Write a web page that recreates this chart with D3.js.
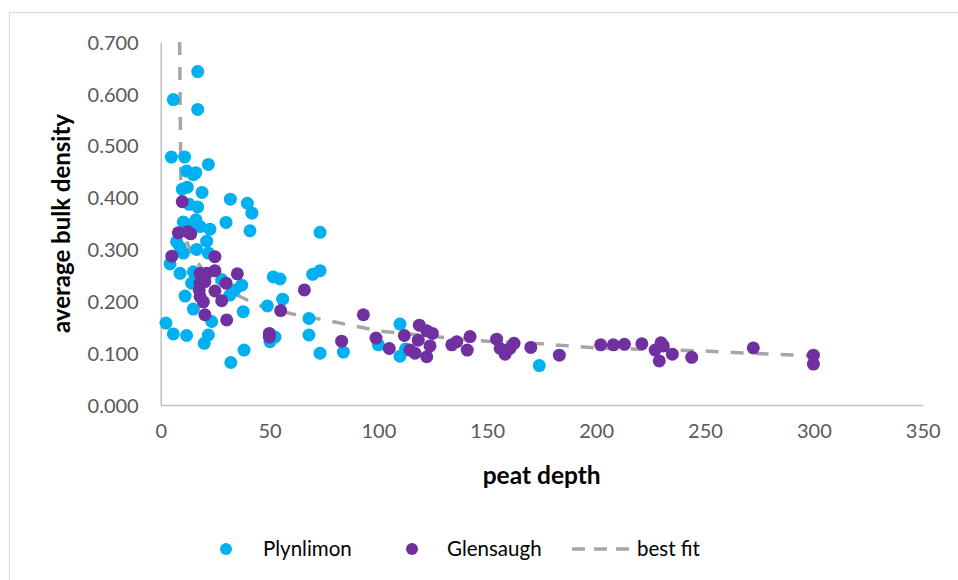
<!DOCTYPE html>
<html lang="en">
	<head>
		<meta charset="utf-8">
		<title>peat depth vs bulk density</title>
		<script type="text/javascript" src="https://cdn.jsdelivr.net/npm/d3@7"></script>
		<style type="text/css">
			body { margin: 0; background: #fff; }
			text { font-family: Lato, "Open Sans", sans-serif; }
		</style>
	</head>
	<body>
		<script type="text/javascript">

// Plynlimon samples
var plynDepth = [17.0, 5.8, 17.0, 4.9, 11.0, 21.9, 11.9, 16.1, 15.0, 12.2, 9.9, 19.0, 32.0, 39.8, 41.9, 17.0, 13.1,
	30.0, 41.0, 73.2, 10.4, 16.2, 12.7, 18.1, 22.6, 7.3, 21.1, 8.9, 16.5, 10.4, 21.9, 4.3, 8.9, 15.0, 14.2, 28.0,
	37.2, 34.1, 31.8, 11.2, 15.0, 37.9, 23.4, 2.4, 5.8, 11.9, 21.9, 20.0, 38.3, 32.2, 51.7, 54.8, 69.8, 73.2,
	56.0, 49.0, 68.1, 50.2, 52.5, 68.1, 73.2, 83.9, 109.9, 100.0, 109.9, 112.5, 173.9]
var plynDensity = [0.643, 0.589, 0.570, 0.478, 0.478, 0.464, 0.451, 0.448, 0.444, 0.420, 0.416, 0.410, 0.397, 0.389, 0.370, 0.382, 0.387,
	0.352, 0.336, 0.333, 0.353, 0.357, 0.347, 0.344, 0.339, 0.315, 0.316, 0.304, 0.300, 0.293, 0.293, 0.272, 0.254, 0.257, 0.235, 0.242,
	0.231, 0.222, 0.212, 0.210, 0.185, 0.180, 0.161, 0.158, 0.137, 0.134, 0.135, 0.119, 0.106, 0.082, 0.247, 0.243, 0.252, 0.259,
	0.204, 0.191, 0.167, 0.122, 0.131, 0.135, 0.100, 0.102, 0.156, 0.116, 0.094, 0.108, 0.076]

// Glensaugh samples
var glenDepth = [9.9, 8.1, 12.4, 13.8, 5.1, 24.9, 18.1, 21.1, 24.9, 35.2, 18.1, 20.3, 30.0, 17.7, 18.1, 24.9, 19.6,
	28.0, 20.3, 30.3, 66.0, 55.1, 93.1, 49.9, 49.9, 83.1, 98.9, 105.0, 111.9, 118.8, 122.2, 124.8, 118.3, 123.7,
	116.8, 122.2, 114.5, 133.7, 136.0, 142.1, 140.8, 154.3, 155.9, 158.2, 160.4, 162.3, 170.0, 183.1, 202.1, 207.9,
	213.0, 221.0, 229.8, 230.9, 227.1, 229.0, 235.0, 243.9, 272.2, 299.8, 299.8]
var glenDensity = [0.392, 0.332, 0.334, 0.330, 0.287, 0.286, 0.254, 0.254, 0.259, 0.253, 0.235, 0.238, 0.235, 0.222, 0.209, 0.220, 0.199,
	0.201, 0.174, 0.164, 0.222, 0.182, 0.174, 0.138, 0.131, 0.123, 0.129, 0.109, 0.134, 0.154, 0.143, 0.138, 0.125, 0.114,
	0.100, 0.093, 0.106, 0.116, 0.122, 0.132, 0.106, 0.127, 0.109, 0.098, 0.109, 0.119, 0.111, 0.096, 0.116, 0.116,
	0.117, 0.118, 0.120, 0.114, 0.106, 0.085, 0.098, 0.092, 0.110, 0.096, 0.079]

// best fit curve
var fitDepth = [8.7, 9.4, 12, 15, 20, 25, 35, 45, 60, 80, 100, 135, 150, 175, 200, 250, 275, 300]
var fitDensity = [0.700, 0.360, 0.315, 0.285, 0.258, 0.240, 0.212, 0.192, 0.176, 0.160, 0.143, 0.128, 0.123, 0.118, 0.110, 0.104, 0.099, 0.095]

var xTicks = [0, 50, 100, 150, 200, 250, 300, 350]
var yTicks = [0, 0.1, 0.2, 0.3, 0.4, 0.5, 0.6, 0.7]

var cyan = "#00B0F0"
var purple = "#7030A0"
var grey = "#A6A6A6"

var W = 958, H = 580
var pLeft = 160.7, pRight = 922.7, pTop = 42, pBottom = 405

var svg = d3.select("body").append("svg")
	.attr("width", W)
	.attr("height", H)

// chart frame (only top/left edges fall inside the picture)
svg.append("rect")
	.attr("x", 9.5).attr("y", 12.5)
	.attr("width", 1000).attr("height", 1000)
	.attr("fill", "none")
	.attr("stroke", "#D9D9D9")

var x = d3.scaleLinear().domain([0, 350]).range([pLeft, pRight])
var y = d3.scaleLinear().domain([0, 0.7]).range([pBottom, pTop])

var xAxis = d3.axisBottom(x).tickValues(xTicks).tickSize(0).tickPadding(19)
	.tickFormat(d3.format("d"))
var yAxis = d3.axisLeft(y).tickValues(yTicks).tickSize(0).tickPadding(22)
	.tickFormat(d3.format(".3f"))

var gx = svg.append("g").attr("transform", "translate(0," + pBottom + ")").call(xAxis)
var gy = svg.append("g").attr("transform", "translate(" + pLeft + ",0)").call(yAxis)

;[gx, gy].forEach(function(g){
	g.select(".domain").attr("stroke", "#BFBFBF").attr("stroke-width", 1.5)
	g.selectAll("text")
		.attr("fill", "#595959")
		.attr("font-size", "20px")
		.style("font-family", "Lato, sans-serif")
})
gy.selectAll("text").attr("dy", "0.36em")

// fit line
var line = d3.line()
	.x(function(d, i){ return x(fitDepth[i]) })
	.y(function(d, i){ return y(fitDensity[i]) })

svg.append("path")
	.datum(fitDepth)
	.attr("d", line)
	.attr("fill", "none")
	.attr("stroke", grey)
	.attr("stroke-width", 3.5)
	.attr("stroke-dasharray", "13,12")

svg.selectAll(".plyn")
	.data(plynDepth)
	.enter()
	.append("circle")
	.attr("class", "plyn")
	.attr("cx", function(d){ return x(d) })
	.attr("cy", function(d, i){ return y(plynDensity[i]) })
	.attr("r", 6.5)
	.attr("fill", cyan)

svg.selectAll(".glen")
	.data(glenDepth)
	.enter()
	.append("circle")
	.attr("class", "glen")
	.attr("cx", function(d){ return x(d) })
	.attr("cy", function(d, i){ return y(glenDensity[i]) })
	.attr("r", 6.5)
	.attr("fill", purple)

// axis titles
svg.append("text")
	.text("peat depth")
	.attr("x", (pLeft + pRight) / 2)
	.attr("y", 484)
	.attr("text-anchor", "middle")
	.attr("font-weight", "bold")
	.attr("font-size", "24.5px")

svg.append("text")
	.text("average bulk density")
	.attr("transform", "translate(70," + ((pTop + pBottom) / 2) + ") rotate(-90)")
	.attr("text-anchor", "middle")
	.attr("font-weight", "bold")
	.attr("font-size", "24px")

// legend
var legend = svg.append("g")
legend.append("circle").attr("cx", 226).attr("cy", 549).attr("r", 6).attr("fill", cyan)
legend.append("text").text("Plynlimon").attr("x", 263).attr("y", 556).attr("font-size", "20.5px")
legend.append("circle").attr("cx", 412).attr("cy", 549).attr("r", 6).attr("fill", purple)
legend.append("text").text("Glensaugh").attr("x", 447).attr("y", 556).attr("font-size", "20.5px")
legend.append("line")
	.attr("x1", 572).attr("x2", 630).attr("y1", 549).attr("y2", 549)
	.attr("stroke", grey).attr("stroke-width", 3.5).attr("stroke-dasharray", "13,9")
legend.append("text").text("best fit").attr("x", 637).attr("y", 556).attr("font-size", "20.5px")

		</script>
	</body>
</html>
